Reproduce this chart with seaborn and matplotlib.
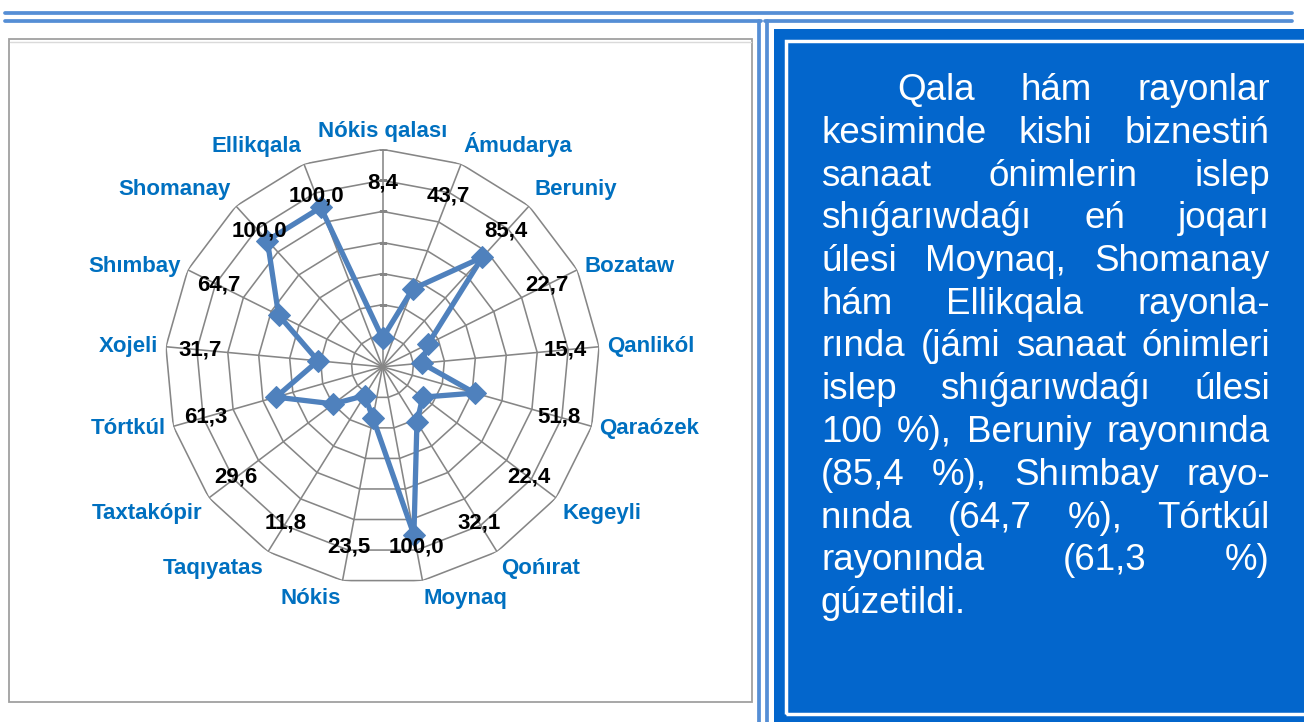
import numpy as np
import pandas as pd
import matplotlib
matplotlib.use('Agg')
import matplotlib.pyplot as plt
import seaborn as sns
from matplotlib.patches import Rectangle
from matplotlib.lines import Line2D

# districts, clockwise from the top
districts = ['Nókis qalası', 'Ámudarya', 'Beruniy', 'Bozataw', 'Qanlikól',
             'Qaraózek', 'Kegeyli', 'Qońırat', 'Moynaq', 'Nókis', 'Taqıyatas',
             'Taxtakópir', 'Tórtkúl', 'Xojeli', 'Shımbay', 'Shomanay', 'Ellikqala']
share = [8.4, 43.7, 85.4, 22.7, 15.4, 51.8, 22.4, 32.1, 100.0, 23.5, 11.8,
         29.6, 61.3, 31.7, 64.7, 100.0, 100.0]
ring_values = [10, 30, 50, 70, 90, 110, 130]
r_min = -10

text_lines = [
    'Qala hám rayonlar',
    'kesiminde kishi biznestiń',
    'sanaat ónimlerin islep',
    'shıǵarıwdaǵı eń joqarı',
    'úlesi Moynaq, Shomanay',
    'hám Ellikqala rayonla-',
    'rında (jámi sanaat ónimleri',
    'islep shıǵarıwdaǵı úlesi',
    '100 %), Beruniy rayonında',
    '(85,4 %), Shımbay rayo-',
    'nında (64,7 %), Tórtkúl',
    'rayonında (61,3 %)',
    'gúzetildi.',
]

sns.set_theme(style='white')
plt.rcParams['font.family'] = ['Liberation Sans', 'DejaVu Sans']

W, H = 1304, 722
fig = plt.figure(figsize=(W / 100, H / 100), dpi=100)
fig.patch.set_facecolor('white')

def fx(x):
    return x / W

def fy(y):
    return 1 - y / H

frame_blue = '#558ED5'
# page decoration lines
fig.add_artist(Line2D([fx(5), fx(1292)], [fy(13), fy(13)], lw=2.7, color=frame_blue))
fig.add_artist(Line2D([fx(5), fx(761)], [fy(21), fy(21)], lw=2.7, color=frame_blue))
fig.add_artist(Line2D([fx(765), fx(1292)], [fy(21), fy(21)], lw=2.7, color=frame_blue))
fig.add_artist(Line2D([fx(759), fx(759)], [fy(21), fy(725)], lw=2.7, color=frame_blue))
fig.add_artist(Line2D([fx(767), fx(767)], [fy(21), fy(725)], lw=2.7, color=frame_blue))

# chart frame
fig.add_artist(Rectangle((fx(9), fy(702)), fx(752) - fx(9), fy(39) - fy(702),
                         facecolor='white', edgecolor='#A0A0A0', lw=1.3, zorder=-2))
fig.add_artist(Line2D([fx(10), fx(751)], [fy(41.5), fy(41.5)], lw=1.0,
                      color='#DADADA', zorder=-1))

# text box
fig.add_artist(Rectangle((fx(774), fy(730)), fx(1320) - fx(774), fy(29) - fy(730),
                         facecolor='#0366CC', edgecolor='none', zorder=-2))
fig.add_artist(Rectangle((fx(786), fy(714)), fx(1330) - fx(786), fy(40.5) - fy(714),
                         facecolor='none', edgecolor='white', lw=2.5, zorder=-1))

# radar chart
cx, cy, rad = 382.5, 366.8, 217.5
ax = fig.add_axes([fx(cx - rad), fy(cy + rad), 2 * rad / W, 2 * rad / H],
                  projection='polar')
ax.set_zorder(2)
ax.set_theta_zero_location('N')
ax.set_theta_direction(-1)
ax.grid(False)
ax.set_xticks([])
ax.set_yticks([])
ax.spines['polar'].set_visible(False)
ax.patch.set_alpha(0)

theta = np.arange(len(districts)) * 2 * np.pi / len(districts)
closed = np.append(theta, 2 * np.pi)

grid_col = '#868686'
for r in ring_values:
    ax.plot(closed, [r] * len(closed), color=grid_col, lw=1.15, zorder=1)
for t in theta:
    ax.plot([t, t], [r_min, ring_values[-1]], color=grid_col, lw=1.15, zorder=1)
ax.plot([0] * len(ring_values), ring_values, ls='none', marker='_', ms=6,
        mew=1.0, color=grid_col, zorder=1)

df = pd.DataFrame({'theta': closed, 'share': share + [share[0]]})
sns.lineplot(data=df, x='theta', y='share', sort=False, estimator=None, ax=ax,
             color='#4F81BD', lw=3.8, marker='D', markersize=11,
             markeredgecolor='#4F81BD', zorder=3)
ax.set_ylim(r_min, ring_values[-1])
ax.set_xlabel('')
ax.set_ylabel('')

for t, name, v in zip(theta, districts, share):
    s, c = np.sin(t), np.cos(t)
    ha = 'left' if s > 0.1 else ('right' if s < -0.1 else 'center')
    va = 'bottom' if c > 0.5 else ('top' if c < -0.5 else 'center')
    ax.text(t, 135, name, ha=ha, va=va, color='#0070C0', fontsize=16,
            fontweight='bold', zorder=4, clip_on=False)
    ax.text(t, 108, f'{v:.1f}'.replace('.', ','), ha='center', va='center',
            color='black', fontsize=16, fontweight='bold', zorder=4, clip_on=False)

# justified paragraph on the right
fig.canvas.draw()
renderer = fig.canvas.get_renderer()
x_left, x_right, indent = 821, 1270, 897
txt_size = 26.5
space = fig.text(0, 0, 'a a', fontsize=txt_size)
space_w = space.get_window_extent(renderer).width
space.set_text('aa')
space_w -= space.get_window_extent(renderer).width
space.remove()
for i, line in enumerate(text_lines):
    words = line.split()
    y = 100 + 42.75 * i
    x0 = indent if i == 0 else x_left
    objs = [fig.text(0, fy(y), w, color='white', fontsize=txt_size,
                     va='baseline') for w in words]
    widths = [o.get_window_extent(renderer).width for o in objs]
    if i == len(text_lines) - 1 or len(words) == 1:
        gap = space_w
    else:
        gap = (x_right - x0 - sum(widths)) / (len(words) - 1)
    x = x0
    for o, w in zip(objs, widths):
        o.set_x(fx(x))
        x += w + gap

fig.savefig('out.png', dpi=100)
